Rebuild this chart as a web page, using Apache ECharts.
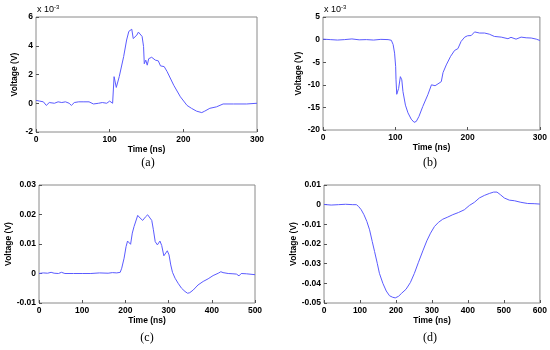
<!DOCTYPE html>
<html>
<head>
<meta charset="utf-8">
<script src="https://cdn.jsdelivr.net/npm/echarts@6/dist/echarts.min.js"></script>
<style>html,body{margin:0;padding:0;background:#fff;}#c{width:550px;height:350px;}</style>
</head>
<body>
<div id="c"></div>
<script>
// (a) values in units of 1e-3 V
const timeA = [0,5,10,14,18,25,30,35,40,45,48,52,58,65,72,78,85,90,96,100,104,106,109,113,119,123,126,130,132,137,139,144,146,147,149,151,153,157,162,166,169,174,178,187,196,205,211,218,225,229,236,245,254,268,286,300];
const voltA = [0.2,0.15,0.1,-0.15,0.05,0.0,0.1,0.05,0.1,0.0,-0.15,0.05,0.1,0.1,0.1,-0.05,0.0,0.05,0.0,0.15,0.0,1.85,1.1,1.85,3.25,4.4,5.0,5.15,4.5,4.75,4.95,4.65,3.95,2.75,3.0,2.65,3.1,3.2,3.0,2.95,2.6,2.55,2.2,1.25,0.45,-0.15,-0.35,-0.55,-0.65,-0.55,-0.35,-0.25,-0.05,-0.05,-0.05,0.0];
// (b) values in units of 1e-3 V
const timeB = [0,10,20,30,40,50,60,70,80,90,94.5,97,99,100.5,101,102,104.6,107,109,110.6,114,117.5,122,126,129,132.7,138,145,150,152,155,159,163.6,166,170.5,176.5,182,186.6,191,196,200,205,209.7,212,216.6,223.5,230,237,246.5,255.8,260,267,274,281,288,295,300];
const voltB = [0.1,0.0,-0.1,0.0,0.15,-0.05,0.0,-0.1,0.05,0.0,-0.15,-1.1,-3,-6,-8.9,-12.1,-10.8,-8.2,-8.9,-11.5,-14.5,-16.2,-17.6,-18.3,-18.1,-17,-14.8,-12.2,-10,-9.6,-10.2,-9.8,-9.3,-7.3,-5.6,-3.7,-2.4,-2.0,-0.4,0.55,0.85,0.9,1.7,1.9,1.45,1.45,1.2,0.7,0.55,0.2,0.5,0.1,0.55,0.4,0.35,0.1,-0.2];
// (c) values in V
const timeC = [0,10,20,28,35,45,52,60,80,100,120,140,160,170,180,188,191.5,197,201.5,205,208.5,212,216,220,224,228.5,234,240,246,251.5,257,261,264.6,269,274,280,284,289,293,297,301,305,309,315,322,330,338,344,349,357,368,380,391.5,403,415,421,426,438,449,457,463,468,480,500];
const voltC = [0,0.0002,0.0001,0.0004,0.0001,0,0.0004,0,0,0,0,0.0002,0.0001,0.0003,0.0002,0.0004,0.0018,0.0052,0.0091,0.011,0.0116,0.0099,0.0137,0.0159,0.0163,0.0197,0.0188,0.018,0.0191,0.0199,0.0188,0.018,0.015,0.0108,0.0097,0.011,0.0095,0.006,0.0063,0.0077,0.0063,0.0029,0.0004,-0.0016,-0.0033,-0.005,-0.0061,-0.0067,-0.0065,-0.0056,-0.0039,-0.0027,-0.0018,-0.0007,0.0001,0.0006,0.0003,0,-0.0001,-0.0002,-0.0008,0,-0.0001,-0.0004];
// (d) values in V
const timeD = [0,20,40,60,80,90,96,103.5,111,119,126.7,134,140.5,148,154,163.6,173,182,191,198,207,216,228,240,251,262.5,274.6,285.7,296,307,318,330,344,357.8,373.5,390,404,418,431.7,445.6,459.5,471.5,480.7,490,501,515,529,547,566,584,600];
const voltD = [0.0001,-0.0002,0,0.0002,0,0,-0.0009,-0.0026,-0.0051,-0.0085,-0.0128,-0.0187,-0.0238,-0.0298,-0.0349,-0.04,-0.0439,-0.0463,-0.0471,-0.0474,-0.0466,-0.045,-0.043,-0.0396,-0.035,-0.0293,-0.0235,-0.0184,-0.0145,-0.0111,-0.009,-0.0074,-0.0063,-0.0051,-0.004,-0.0026,-0.0004,0.0012,0.0034,0.0047,0.0057,0.0064,0.0064,0.0051,0.0034,0.0023,0.002,0.0012,0.0006,0.0005,0.0003];

const xTicksA = [0, 300, 100];
const yTicksA = [-2, 6, 2];
const xTicksB = [0, 300, 100];
const yTicksB = [-20, 5, 5];
const xTicksC = [0, 500, 100];
const yTicksC = [-0.01, 0.03, 0.01];
const xTicksD = [0, 600, 100];
const yTicksD = [-0.05, 0.01, 0.01];
const captions = ['(a)', '(b)', '(c)', '(d)'];
const xName = 'Time (ns)';
const yName = 'Voltage (V)';

const zip = (t, v) => t.map((x, i) => [x, v[i]]);
const FONT = 'Liberation Sans, Arial, sans-serif';
const lblStyle = {color: '#000', fontSize: 8.5, fontWeight: 'bold', fontFamily: FONT};
const fmt = v => { const r = Math.round(v * 1000) / 1000; return String(r); };

const grids = [
  {left: 36, top: 17, width: 221, height: 115},
  {left: 323, top: 17, width: 217, height: 113},
  {left: 39, top: 185, width: 216, height: 118},
  {left: 324, top: 185, width: 217, height: 118}
];
const xt = [xTicksA, xTicksB, xTicksC, xTicksD];
const yt = [yTicksA, yTicksB, yTicksC, yTicksD];
const yGaps = [17, 20, 26, 25];

const chart = echarts.init(document.getElementById('c'), null, {renderer: 'canvas'});
chart.setOption({
  backgroundColor: '#fff',
  animation: false,
  grid: grids.map(g => Object.assign({show: true, borderColor: '#8a8a8a', borderWidth: 1, backgroundColor: '#fff', containLabel: false}, g)),
  xAxis: xt.map((t, i) => ({
    type: 'value', gridIndex: i, min: t[0], max: t[1], interval: t[2],
    name: xName, nameLocation: 'middle', nameGap: 12,
    nameTextStyle: lblStyle,
    axisLine: {show: false, onZero: false},
    axisTick: {show: true, inside: true, length: 3, lineStyle: {color: '#555'}},
    axisLabel: Object.assign({margin: 3, formatter: fmt}, lblStyle),
    splitLine: {show: false}
  })),
  yAxis: yt.map((t, i) => ({
    type: 'value', gridIndex: i, min: t[0], max: t[1], interval: t[2],
    name: yName, nameLocation: 'middle', nameGap: yGaps[i],
    nameTextStyle: lblStyle,
    axisLine: {show: false, onZero: false},
    axisTick: {show: true, inside: true, length: 3, lineStyle: {color: '#555'}},
    axisLabel: Object.assign({margin: 3, formatter: fmt}, lblStyle),
    splitLine: {show: false}
  })),
  series: [zip(timeA, voltA), zip(timeB, voltB), zip(timeC, voltC), zip(timeD, voltD)].map((d, i) => ({
    type: 'line', xAxisIndex: i, yAxisIndex: i, data: d, showSymbol: false,
    lineStyle: {color: '#5b5bff', width: 1}, silent: true
  })),
  graphic: [
    {type: 'text', left: 37, top: 4, style: {rich: {a: {fontSize: 9, fontFamily: FONT, fill: '#000'}, s: {fontSize: 6, fontFamily: FONT, fill: '#000', verticalAlign: 'top', padding: [0, 0, 5, 0]}}, text: '{a|x 10}{s|-3}'}},
    {type: 'text', left: 324, top: 4, style: {rich: {a: {fontSize: 9, fontFamily: FONT, fill: '#000'}, s: {fontSize: 6, fontFamily: FONT, fill: '#000', verticalAlign: 'top', padding: [0, 0, 5, 0]}}, text: '{a|x 10}{s|-3}'}},
    {type: 'text', x: 148, y: 163, style: {text: captions[0], font: '12px "Liberation Serif", serif', fill: '#000', align: 'center', verticalAlign: 'middle'}},
    {type: 'text', x: 430, y: 163, style: {text: captions[1], font: '12px "Liberation Serif", serif', fill: '#000', align: 'center', verticalAlign: 'middle'}},
    {type: 'text', x: 147, y: 338, style: {text: captions[2], font: '12px "Liberation Serif", serif', fill: '#000', align: 'center', verticalAlign: 'middle'}},
    {type: 'text', x: 430, y: 338, style: {text: captions[3], font: '12px "Liberation Serif", serif', fill: '#000', align: 'center', verticalAlign: 'middle'}}
  ]
});
</script>
</body>
</html>
